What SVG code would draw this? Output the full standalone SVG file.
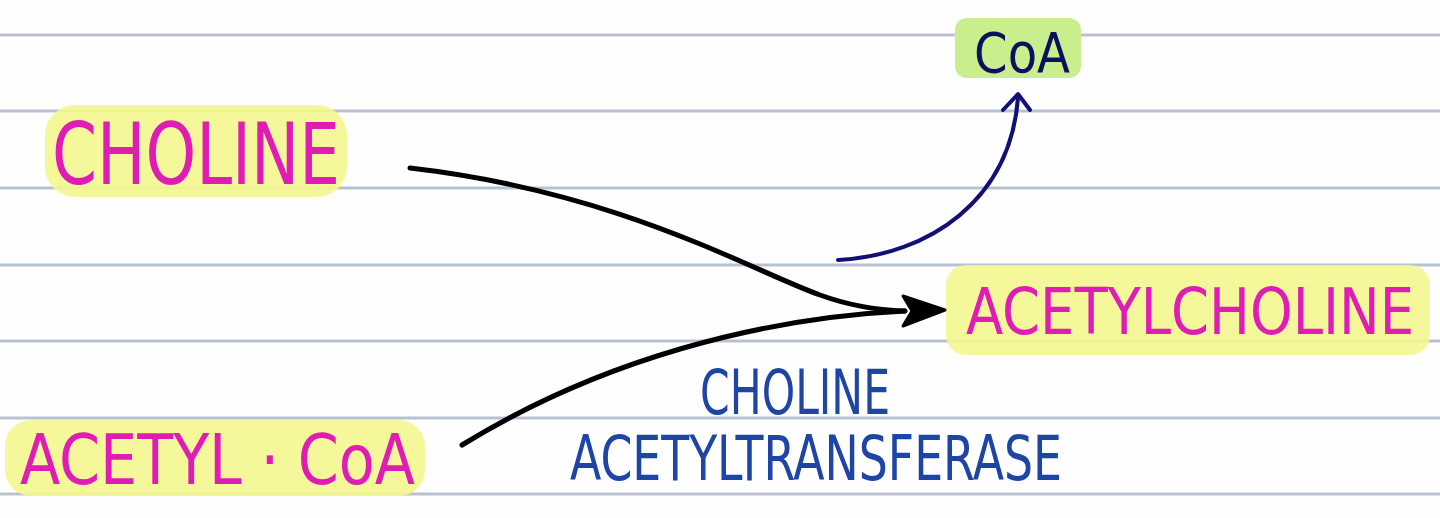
<svg xmlns="http://www.w3.org/2000/svg" width="1440" height="518" viewBox="0 0 1440 518">
<defs>
<style>
.rule{stroke:#b9c1d1;stroke-width:3}
.pink{fill:#e01cb4;font-family:"Liberation Sans Narrow","DejaVu Sans Condensed","Liberation Sans",sans-serif}
.blue{fill:#1e44a6;font-family:"Liberation Sans Narrow","DejaVu Sans Condensed","Liberation Sans",sans-serif}
.navy{fill:#0d1060;font-family:"Liberation Sans Narrow","DejaVu Sans Condensed","Liberation Sans",sans-serif}
.hl{fill:#f4f78f}
.blk{fill:none;stroke:#000;stroke-width:5;stroke-linecap:round}
</style>
</defs>
<rect width="1440" height="518" fill="#fefefe"/>
<g id="rules">
<line class="rule" x1="0" y1="35" x2="1440" y2="35"/>
<line class="rule" x1="0" y1="111" x2="1440" y2="111"/>
<line class="rule" x1="0" y1="188" x2="1440" y2="188"/>
<line class="rule" x1="0" y1="265" x2="1440" y2="265"/>
<line class="rule" x1="0" y1="341" x2="1440" y2="341"/>
<line class="rule" x1="0" y1="418" x2="1440" y2="418"/>
<line class="rule" x1="0" y1="494" x2="1440" y2="494"/>
</g>
<g id="choline">
<rect class="hl" x="45" y="105" width="302" height="92" rx="30" opacity="0.9"/>
<text class="pink" x="52" y="184" font-size="86" textLength="288" lengthAdjust="spacingAndGlyphs">CHOLINE</text>
</g>
<g id="coa">
<rect x="955" y="18" width="126" height="60" rx="12" fill="#c9ef8d"/>
<text class="navy" x="974" y="72" font-size="56" textLength="96" lengthAdjust="spacingAndGlyphs">CoA</text>
</g>
<g id="acetylcholine">
<rect class="hl" x="946" y="265" width="484" height="90" rx="20" opacity="0.9"/>
<text class="pink" x="966" y="334" font-size="64" textLength="448" lengthAdjust="spacingAndGlyphs">ACETYLCHOLINE</text>
</g>
<g id="acetylcoa">
<rect class="hl" x="5" y="420" width="420" height="76" rx="26" opacity="0.9"/>
<text class="pink" x="20" y="484" font-size="70" textLength="395" lengthAdjust="spacingAndGlyphs">ACETYL · CoA</text>
</g>
<g id="enzyme">
<text class="blue" x="700" y="414" font-size="62" textLength="190" lengthAdjust="spacingAndGlyphs">CHOLINE</text>
<text class="blue" x="570" y="480" font-size="62" textLength="492" lengthAdjust="spacingAndGlyphs">ACETYLTRANSFERASE</text>
</g>
<g id="connectors">
<path class="blk" d="M410,168 C620,192 750,270 820,295 C850,306 875,310 905,311"/>
<path class="blk" d="M462,445 C600,360 760,318 905,311"/>
<path d="M903,296 L945,310 L903,326 L912,311 z" fill="#000" stroke="#000" stroke-width="3" stroke-linejoin="round"/>
<path d="M838,260 C930,255 1010,200 1018,98" fill="none" stroke="#121075" stroke-width="4" stroke-linecap="round"/>
<path d="M1003,110 L1018,94 L1030,110" fill="none" stroke="#121075" stroke-width="4" stroke-linecap="round" stroke-linejoin="round"/>
</g>
</svg>
